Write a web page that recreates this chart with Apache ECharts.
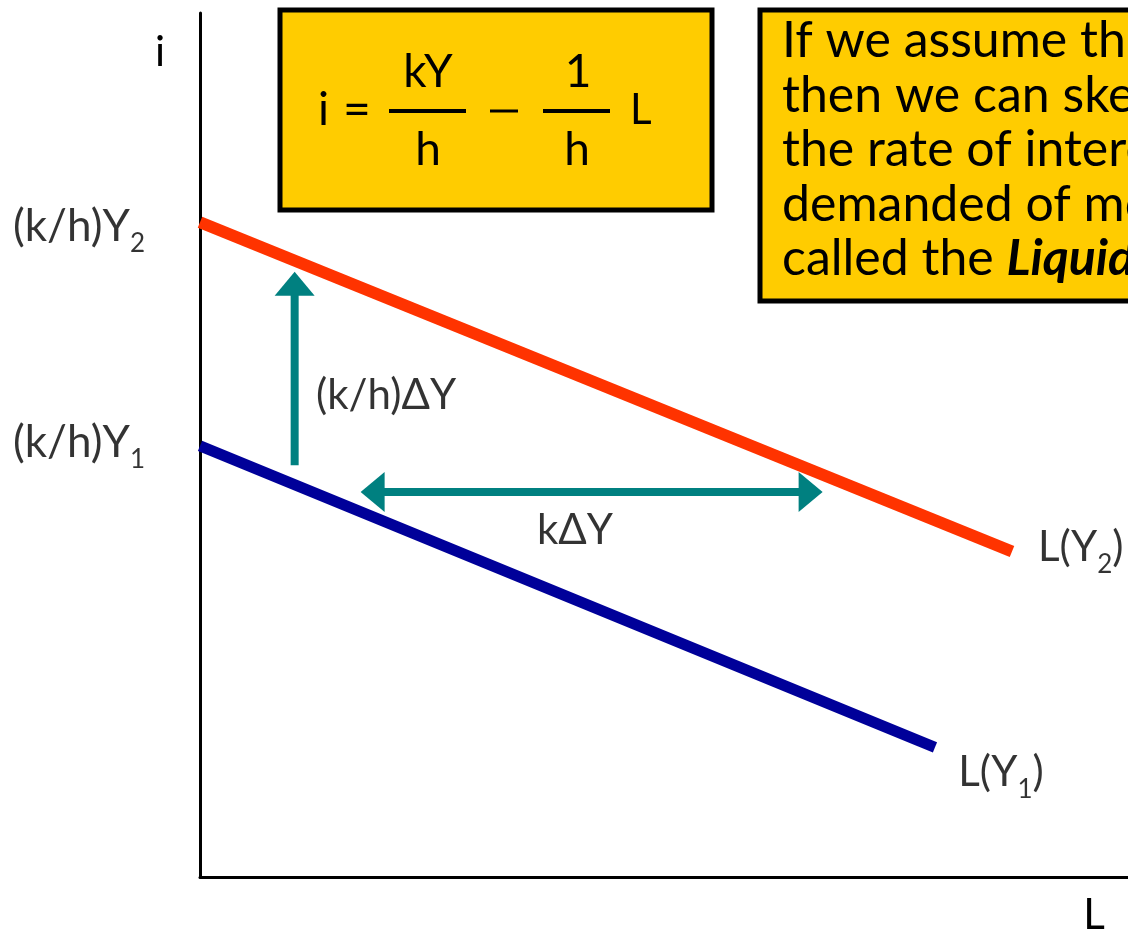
<!DOCTYPE html>
<html>
<head>
<meta charset="utf-8">
<script src="https://cdn.jsdelivr.net/npm/echarts@6/dist/echarts.min.js"></script>
<style>
  html, body { margin: 0; padding: 0; background: #fff; }
  #main { width: 1128px; height: 932px; }
</style>
</head>
<body>
<div id="main"></div>
<script>
// axis units: L from 0 to 10, i from 0 to 9
const curveY2 = [[0, 6.82], [8.75, 3.39]]
const curveY1 = [[0, 4.49], [7.92, 1.35]]
// (k/h)ΔY shift and kΔY shift, shafts end at the arrow head centres
const shiftUp = [[1.02, 4.29], [1.02, 6.18]]
const shiftRight = [[1.86, 4.01], [6.58, 4.01]]
// arrow heads: x, y, rotation
const arrowHeads = [[1.02, 6.18, 0], [1.86, 4.01, 90], [6.58, 4.01, -90]]
// label anchors
const interceptLabels = [['(k/h)Y', '2', 0, 6.77], ['(k/h)Y', '1', 0, 4.52]]
const curveLabels = [['L(Y', '2', ')', 9.03, 3.43], ['L(Y', '1', ')', 8.17, 1.09]]
const shiftLabels = [['(k/h)ΔY', 1.25, 5.02, 'right'], ['kΔY', 4.04, 3.61, 'inside']]
const boxLines = [
  'If we assume these are',
  'then we can sketch the',
  'the rate of interest and',
  'demanded of money. This',
  'called the {b|Liquidity}'
]

const FONT = 'Lato'
const teal = '#008080'
const yellow = '#FFCC00'

let myChart = echarts.init(document.getElementById('main'))

const subRich = {
  a: { fontFamily: FONT, fontSize: 42, lineHeight: 60, color: '#000' },
  b: { fontFamily: FONT, fontSize: 44, lineHeight: 60, color: '#000' },
  s: { fontFamily: FONT, fontSize: 26, lineHeight: 26, verticalAlign: 'bottom', color: '#000' }
}

let labelData = []
interceptLabels.forEach(item => {
  labelData.push({
    value: [item[2], item[3]],
    label: { position: 'left', distance: 55, formatter: '{b|' + item[0] + '}{s|' + item[1] + '}' }
  })
})
curveLabels.forEach(item => {
  labelData.push({
    value: [item[3], item[4]],
    label: { position: 'right', distance: 0, formatter: '{a|' + item[0] + '}{s|' + item[1] + '}{a|' + item[2] + '}' }
  })
})
shiftLabels.forEach(item => {
  labelData.push({
    value: [item[1], item[2]],
    label: { position: item[3], distance: 0, formatter: '{a|' + item[0] + '}' }
  })
})

let headData = arrowHeads.map(item => ({ value: [item[0], item[1]], symbolRotate: item[2] }))

function txt(x, y, s, size, align) {
  return {
    type: 'text', x: x, y: y,
    style: { text: s, font: size + 'px ' + FONT, fill: '#000', align: align || 'left', verticalAlign: 'middle' }
  }
}

let option = {
  animation: false,
  grid: { left: 200, right: 0, top: 13, bottom: 55 },
  xAxis: {
    type: 'value', min: 0, max: 10,
    axisLine: { show: true, lineStyle: { color: '#000', width: 3 } },
    axisTick: { show: false }, axisLabel: { show: false }, splitLine: { show: false }
  },
  yAxis: {
    type: 'value', min: 0, max: 9,
    axisLine: { show: true, lineStyle: { color: '#000', width: 3 } },
    axisTick: { show: false }, axisLabel: { show: false }, splitLine: { show: false }
  },
  graphic: [
    // formula box
    { type: 'rect', shape: { x: 280, y: 10, width: 432, height: 200 }, style: { fill: yellow, stroke: '#000', lineWidth: 5 } },
    txt(318, 110, 'i', 46),
    txt(343, 111, '=', 48),
    txt(428, 72, 'kY', 46, 'center'),
    { type: 'line', shape: { x1: 389, y1: 111, x2: 466, y2: 111 }, style: { stroke: '#000', lineWidth: 4 } },
    txt(428, 150, 'h', 46, 'center'),
    { type: 'line', shape: { x1: 490, y1: 111, x2: 518, y2: 111 }, style: { stroke: '#000', lineWidth: 3 } },
    txt(578, 72, '1', 46, 'center'),
    { type: 'line', shape: { x1: 543, y1: 111, x2: 610, y2: 111 }, style: { stroke: '#000', lineWidth: 4 } },
    txt(577, 150, 'h', 46, 'center'),
    txt(630, 110, 'L', 42),
    // explanation box, runs off the right edge
    { type: 'rect', shape: { x: 760, y: 10, width: 500, height: 291 }, style: { fill: yellow, stroke: '#000', lineWidth: 5 } },
    {
      type: 'text', x: 782, y: 14,
      style: {
        text: boxLines.join('\n'),
        font: '50px ' + FONT, lineHeight: 54.5, fill: '#000', verticalAlign: 'top',
        rich: { b: { font: 'italic bold 50px ' + FONT, lineHeight: 54.5, fill: '#000' } }
      }
    },
    // axis names
    txt(160, 52, 'i', 42, 'center'),
    txt(1094, 915, 'L', 42, 'center')
  ],
  series: [
    {
      name: 'L(Y2)', type: 'line', data: curveY2, symbol: 'none',
      lineStyle: { color: '#FF3300', width: 12 }, z: 3
    },
    {
      name: 'L(Y1)', type: 'line', data: curveY1, symbol: 'none',
      lineStyle: { color: '#000099', width: 11 }, z: 3
    },
    {
      type: 'line', data: shiftUp, symbol: 'none', z: 4,
      lineStyle: { color: teal, width: 8 }
    },
    {
      type: 'line', data: shiftRight, symbol: 'none', z: 4,
      lineStyle: { color: teal, width: 8 }
    },
    {
      type: 'scatter', symbol: 'triangle', symbolSize: [40, 24], z: 4, silent: true,
      itemStyle: { color: teal, opacity: 1 },
      data: headData
    },
    {
      type: 'scatter', symbolSize: 0, z: 5, silent: true,
      label: { show: true, color: '#000', rich: subRich },
      data: labelData
    }
  ]
}

myChart.setOption(option)
</script>
</body>
</html>
